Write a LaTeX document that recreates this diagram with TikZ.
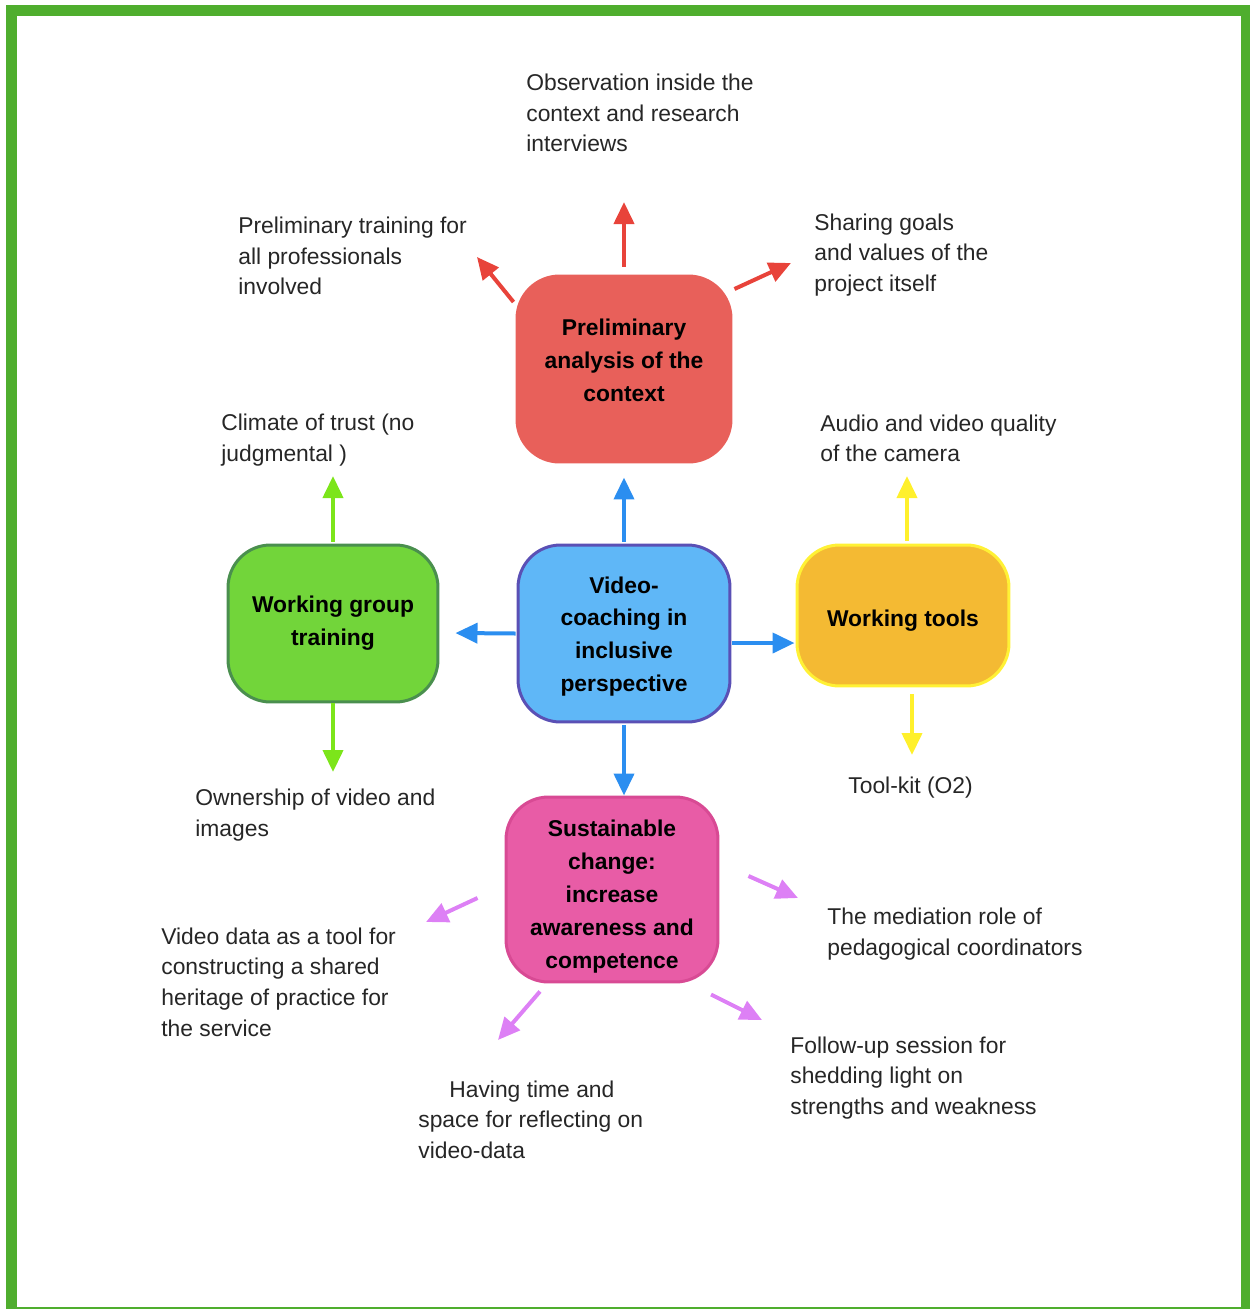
\documentclass[tikz,border=0pt]{standalone}
\usepackage{fontspec}
\setmainfont{Liberation Sans}
\usetikzlibrary{positioning, arrows.meta}

\definecolor{framegreen}{HTML}{4FAE2E}
\definecolor{prelimred}{HTML}{E8605A}
\definecolor{prelimarrow}{HTML}{E8433A}
\definecolor{videoblue}{HTML}{5FB7F7}
\definecolor{videoedge}{HTML}{5A50B5}
\definecolor{videoarrow}{HTML}{2B8EF0}
\definecolor{groupgreen}{HTML}{72D53A}
\definecolor{groupedge}{HTML}{4A8F4E}
\definecolor{grouparrow}{HTML}{7CE51A}
\definecolor{toolsorange}{HTML}{F4BA33}
\definecolor{toolsedge}{HTML}{FFF135}
\definecolor{toolsarrow}{HTML}{FFF02C}
\definecolor{changepink}{HTML}{E85CA6}
\definecolor{changeedge}{HTML}{D84A94}
\definecolor{changearrow}{HTML}{DD80F5}

\begin{document}
\begin{tikzpicture}[x=0.02cm, y=-0.02cm,
  box node/.style={rounded corners=0.85cm, line width=0.06cm, align=center, inner sep=0pt,
    font=\bfseries\fontsize{13}{18.7}\selectfont},
  label node/.style={anchor=west, align=left, inner sep=0pt, text=black!85,
    font=\fontsize{13}{17.4}\selectfont},
  link arrow/.style={line width=0.08cm, -{Triangle[length=0.44cm, width=0.4cm]}}]

\useasboundingbox (0,0) rectangle (1249,1309);
\draw[framegreen, line width=0.22cm] (11.5,10.5) rectangle (1246.5,1312);

% main boxes
\node[box node, fill=prelimred, draw=prelimred, minimum width=4.28cm, minimum height=3.72cm] (prelim) at (624,369) {Preliminary\\analysis of the\\context\rule[-0.36cm]{0pt}{0pt}};
\node[box node, fill=videoblue, draw=videoedge, minimum width=4.24cm, minimum height=3.54cm] (video) at (624,633.5) {\rule{0pt}{0.45cm}Video-\\coaching in\\inclusive\\perspective};
\node[box node, fill=groupgreen, draw=groupedge, minimum width=4.2cm, minimum height=3.14cm] (group) at (333,623.5) {Working group\\training};
\node[box node, fill=toolsorange, draw=toolsedge, minimum width=4.24cm, minimum height=2.82cm] (tools) at (903,615.5) {\rule{0pt}{0.53cm}Working tools};
\node[box node, fill=changepink, draw=changeedge, minimum width=4.24cm, minimum height=3.7cm] (change) at (612,889.5) {\rule{0pt}{0.62cm}Sustainable\\change:\\increase\\awareness and\\competence};

% labels
\node[label node] (observation) at (526,113) {Observation inside the\\context and research\\interviews};
\node[label node] (training) at (238,256) {Preliminary training for\\all professionals\\involved};
\node[label node] (goals) at (814,255) {Sharing goals\\and values of the\\project itself};
\node[label node] (trust) at (221,440) {Climate of trust (no\\judgmental )};
\node[label node] (quality) at (820,438.5) {Audio and video quality\\of the camera};
\node[label node] (ownership) at (195,815) {Ownership of video and\\images};
\node[label node] (toolkit) at (848,788) {Tool-kit (O2)};
\node[label node] (heritage) at (161,982) {Video data as a tool for\\constructing a shared\\heritage of practice for\\the service};
\node[label node] (mediation) at (827,934) {The mediation role of\\pedagogical coordinators};
\node[label node] (reflect) at (418,1119.5) {\hspace*{0.62cm}Having time and\\space for reflecting on\\video-data};
\node[label node] (followup) at (790,1078) {Follow-up session for\\shedding light on\\strengths and weakness};

% arrow tips
\coordinate (obsTip) at (624,202);
\coordinate (trainTip) at (477,257);
\coordinate (goalsTip) at (791,263);
\coordinate (trustTip) at (333,476);
\coordinate (ownTip) at (333,772);
\coordinate (qualityTip) at (907,476);
\coordinate (kitTip) at (912,755);
\coordinate (heritageTip) at (426,922);
\coordinate (mediationTip) at (798,898);
\coordinate (reflectTip) at (498,1040);
\coordinate (followTip) at (762,1020);

\path[link arrow, prelimarrow]
  ([shift={(0,-8)}]prelim.north) edge (obsTip)
  ([shift={(-2,-67)}]prelim.west) edge (trainTip)
  ([shift={(2,-80)}]prelim.east) edge (goalsTip);

\path[link arrow, videoarrow]
  ([shift={(0,-2)}]video.north) edge ([shift={(0,14)}]prelim.south)
  ([shift={(-1,0)}]video.west) edge ([shift={(16,9.5)}]group.east)
  ([shift={(1,9.5)}]video.east) edge ([shift={(-1,27.5)}]tools.west)
  ([shift={(0,2)}]video.south) edge ([shift={(12,0)}]change.north);

\path[link arrow, grouparrow]
  ([shift={(0,-2)}]group.north) edge (trustTip)
  (group.south) edge (ownTip);

\path[link arrow, toolsarrow]
  ([shift={(4,-3)}]tools.north) edge (qualityTip)
  ([shift={(9,7)}]tools.south) edge (kitTip);

\path[link arrow, changearrow]
  ([shift={(-27,8.5)}]change.west) edge (heritageTip)
  ([shift={(29,-13.5)}]change.east) edge (mediationTip)
  ([shift={(-72,8)}]change.south) edge (reflectTip)
  ([shift={(99,11)}]change.south) edge (followTip);

\end{tikzpicture}
\end{document}
